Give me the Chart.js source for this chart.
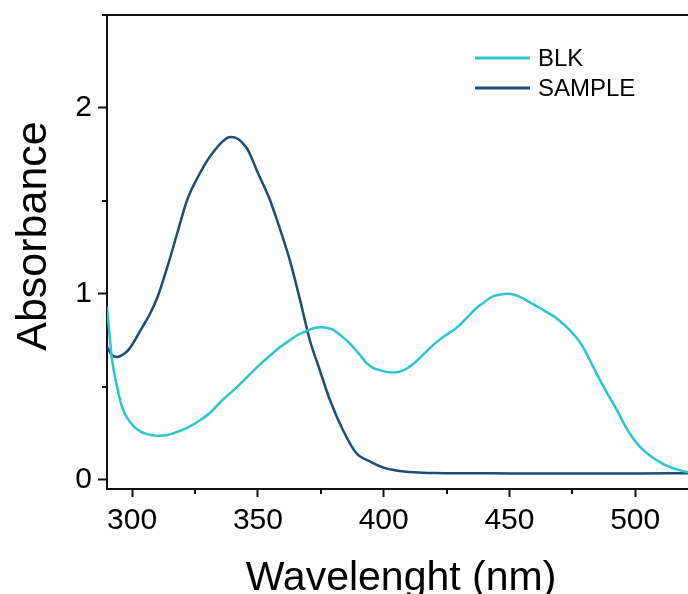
<!DOCTYPE html>
<html>
<head>
<meta charset="utf-8">
<script src="https://cdn.jsdelivr.net/npm/chart.js@4"></script>
<style>
  body { margin: 0; background: #fff; }
</style>
</head>
<body>
<canvas id="myChart" width="688" height="594"></canvas>
<script>
// values
const blkWave = [290, 291, 292, 294, 296, 298, 302, 306, 310, 314, 318, 322, 327, 331, 336, 341, 345.6, 350, 355, 359, 363, 366, 369.4, 372, 375, 378, 380, 383, 386.4, 390, 393, 396, 398.4, 401, 404, 408, 411.5, 414, 417, 421, 425, 429, 433, 437, 440, 443, 446, 449, 452, 455, 458, 462, 465, 468.6, 472, 475, 478, 480.6, 484.5, 487, 489.7, 493.7, 496, 498.8, 501, 504, 507, 509.5, 512, 514.7, 518, 521];
const blkAbs = [0.93, 0.78, 0.645, 0.50, 0.39, 0.333, 0.27, 0.245, 0.237, 0.24, 0.258, 0.28, 0.32, 0.36, 0.43, 0.49, 0.55, 0.61, 0.67, 0.715, 0.753, 0.78, 0.80, 0.815, 0.82, 0.815, 0.806, 0.775, 0.735, 0.68, 0.63, 0.60, 0.59, 0.58, 0.577, 0.59, 0.62, 0.65, 0.69, 0.74, 0.78, 0.817, 0.87, 0.925, 0.955, 0.984, 0.995, 1.0, 0.995, 0.978, 0.955, 0.925, 0.90, 0.87, 0.83, 0.79, 0.74, 0.68, 0.575, 0.51, 0.446, 0.35, 0.29, 0.23, 0.19, 0.15, 0.12, 0.097, 0.078, 0.064, 0.05, 0.04];

const sampleWave = [290, 292, 294, 296, 298, 300, 304, 307, 310, 315, 318, 322, 327, 330, 333, 336, 339, 341, 344, 346, 350, 354.8, 357.5, 362.7, 366.7, 370.6, 374.6, 378.6, 383.7, 389, 395, 400, 405, 412, 420, 450, 500, 521];
const sampleAbs = [0.715, 0.67, 0.66, 0.67, 0.69, 0.726, 0.82, 0.89, 0.98, 1.19, 1.33, 1.51, 1.65, 1.72, 1.775, 1.82, 1.843, 1.84, 1.81, 1.774, 1.65, 1.505, 1.40, 1.18, 0.97, 0.753, 0.59, 0.43, 0.27, 0.145, 0.095, 0.065, 0.05, 0.04, 0.036, 0.034, 0.033, 0.035];

const seriesNames = ['BLK', 'SAMPLE'];
const seriesColors = ['#2cc5ce', '#184e77'];
const xMinorTicks = [325, 375, 425, 475];
const yMinorTicks = [0.5, 1.5, 2.5];
const xTitle = 'Wavelenght (nm)';
const yTitle = 'Absorbance';

const FONT = "'Liberation Sans', Arial, sans-serif";

function toPoints(xs, ys) {
  let pts = [];
  for (let i = 0; i < xs.length; i++) {
    pts.push({ x: xs[i], y: ys[i] });
  }
  return pts;
}

const data = {
  datasets: [
    {
      label: seriesNames[0],
      data: toPoints(blkWave, blkAbs),
      borderColor: seriesColors[0],
      backgroundColor: seriesColors[0],
      borderWidth: 2.5,
      pointRadius: 0,
      cubicInterpolationMode: 'monotone'
    },
    {
      label: seriesNames[1],
      data: toPoints(sampleWave, sampleAbs),
      borderColor: seriesColors[1],
      backgroundColor: seriesColors[1],
      borderWidth: 2.5,
      pointRadius: 0,
      cubicInterpolationMode: 'monotone'
    }
  ]
};

// minor ticks, axis titles and the legend
const extras = {
  id: 'extras',
  afterDraw(chart) {
    const ctx = chart.ctx;
    const xs = chart.scales.x;
    const ys = chart.scales.y;
    const area = chart.chartArea;
    ctx.save();
    ctx.strokeStyle = '#111';
    ctx.lineWidth = 2;
    ctx.beginPath();
    xMinorTicks.forEach(v => {
      const px = Math.round(xs.getPixelForValue(v));
      ctx.moveTo(px, area.bottom);
      ctx.lineTo(px, area.bottom + 5);
    });
    yMinorTicks.forEach(v => {
      const py = Math.round(ys.getPixelForValue(v));
      ctx.moveTo(area.left, py);
      ctx.lineTo(area.left - 5, py);
    });
    ctx.stroke();

    // top frame line
    ctx.beginPath();
    ctx.moveTo(area.left, area.top);
    ctx.lineTo(area.right, area.top);
    ctx.stroke();

    // axis titles
    ctx.fillStyle = '#000';
    ctx.textAlign = 'center';
    ctx.textBaseline = 'alphabetic';
    ctx.font = '41px ' + FONT;
    ctx.fillText(xTitle, 401, 590);
    ctx.save();
    ctx.translate(46, 236);
    ctx.rotate(-Math.PI / 2);
    ctx.font = '43px ' + FONT;
    ctx.fillText(yTitle, 0, 0);
    ctx.restore();

    // legend
    ctx.font = '24px ' + FONT;
    ctx.textAlign = 'left';
    ctx.textBaseline = 'middle';
    chart.data.datasets.forEach((ds, i) => {
      const y = 58 + i * 30;
      ctx.strokeStyle = ds.borderColor;
      ctx.lineWidth = 3;
      ctx.beginPath();
      ctx.moveTo(475, y);
      ctx.lineTo(530, y);
      ctx.stroke();
      ctx.fillStyle = '#000';
      ctx.fillText(ds.label, 538, y + 1);
    });
    ctx.restore();
  }
};

const config = {
  type: 'line',
  data: data,
  options: {
    responsive: false,
    animation: false,
    layout: { padding: { top: 15, left: 0, right: 0, bottom: 0 } },
    plugins: {
      legend: { display: false },
      tooltip: { enabled: false }
    },
    scales: {
      x: {
        type: 'linear',
        min: 290,
        max: 521,
        afterFit(scale) {
          scale.height = 105;
          scale.paddingLeft = 0;
          scale.paddingRight = 0;
        },
        border: { display: true, color: '#111', width: 2 },
        grid: { drawOnChartArea: false, drawTicks: true, tickLength: 8, tickColor: '#111', tickWidth: 2 },
        ticks: {
          stepSize: 50,
          includeBounds: false,
          color: '#000',
          padding: 6,
          maxRotation: 0,
          font: { family: FONT, size: 30 }
        }
      },
      y: {
        type: 'linear',
        min: -0.05,
        max: 2.5,
        afterFit(scale) {
          scale.width = 107;
          scale.paddingTop = 0;
          scale.paddingBottom = 0;
        },
        border: { display: true, color: '#111', width: 2 },
        grid: { drawOnChartArea: false, drawTicks: true, tickLength: 9, tickColor: '#111', tickWidth: 2 },
        ticks: {
          stepSize: 1,
          includeBounds: false,
          color: '#000',
          padding: 6,
          font: { family: FONT, size: 30 }
        }
      }
    }
  },
  plugins: [extras]
};

const myChart = new Chart(document.getElementById('myChart'), config);
</script>
</body>
</html>
